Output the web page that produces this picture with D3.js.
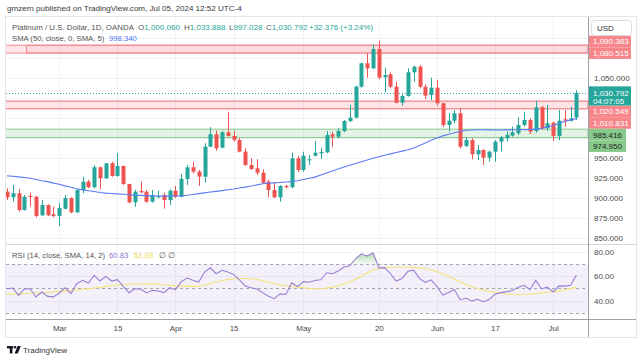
<!DOCTYPE html>
<html lang="en">
<head>
  <meta charset="UTF-8" />
  <title>Platinum / U.S. Dollar, 1D</title>
  <script src="https://cdn.jsdelivr.net/npm/d3@7"></script>
  <style>
    body { margin: 0; background: #fff; }
    svg { display: block; font-family: 'Liberation Sans', Arial, sans-serif; }
  </style>
</head>
<body>
  <svg width="643" height="361"></svg>

  <script>
    // trading days (2024, MM-DD)
    const dates = [
      '02-19', '02-20', '02-21', '02-22', '02-23', '02-26', '02-27', '02-28', '02-29',
      '03-01', '03-04', '03-05', '03-06', '03-07', '03-08', '03-11', '03-12', '03-13', '03-14', '03-15',
      '03-18', '03-19', '03-20', '03-21', '03-22', '03-25', '03-26', '03-27', '03-28',
      '04-01', '04-02', '04-03', '04-04', '04-05', '04-08', '04-09', '04-10', '04-11', '04-12',
      '04-15', '04-16', '04-17', '04-18', '04-19', '04-22', '04-23', '04-24', '04-25', '04-26', '04-29', '04-30',
      '05-01', '05-02', '05-03', '05-06', '05-07', '05-08', '05-09', '05-10', '05-13', '05-14', '05-15', '05-16', '05-17',
      '05-20', '05-21', '05-22', '05-23', '05-24', '05-27', '05-28', '05-29', '05-30', '05-31',
      '06-03', '06-04', '06-05', '06-06', '06-07', '06-10', '06-11', '06-12', '06-13', '06-14',
      '06-17', '06-18', '06-19', '06-20', '06-21', '06-24', '06-25', '06-26', '06-27', '06-28',
      '07-01', '07-02', '07-03', '07-04', '07-05',
    ];

    const opens = [
      907.3, 900.3, 905.3, 884.4, 901.9, 901.0, 877.8, 890.6, 879.0,
      876.9, 885.9, 899.4, 881.5, 909.4, 919.8, 912.8, 937.8, 924.0, 942.8, 926.9,
      939.4, 916.9, 894.0, 908.1, 907.3, 894.8, 900.3, 903.1, 896.9,
      908.5, 901.0, 923.1, 937.8, 932.3, 926.0, 963.5, 979.0, 962.3, 981.5,
      976.9, 971.9, 957.3, 940.6, 936.5, 931.0, 919.8, 909.4, 900.3, 914.4, 912.8, 949.0,
      934.4, 946.5, 952.3, 955.3, 956.5, 979.0, 976.0, 983.1, 995.6, 999.8, 1038.5, 1067.8, 1061.5,
      1085.6, 1050.3, 1054.0, 1038.5, 1018.5, 1026.9, 1056.5, 1063.5, 1038.5, 1028.1,
      1037.3, 1017.8, 990.6, 996.0, 1005.3, 964.4, 971.9, 954.0, 959.4, 949.8,
      957.3, 969.8, 974.0, 977.3, 980.3, 990.6, 996.9, 983.1, 1012.8, 986.5,
      993.5, 976.9, 997.8, 996.0, 1000.06,
    ];
    const highs = [
      911.5, 915.6, 910.6, 903.0, 906.0, 901.9, 896.9, 891.5, 888.5,
      893.1, 903.1, 900.3, 910.3, 926.0, 921.9, 940.6, 938.5, 943.0, 944.8, 955.3,
      940.0, 917.0, 909.4, 919.8, 909.4, 909.4, 908.5, 906.0, 910.3,
      914.4, 929.4, 940.6, 944.8, 934.4, 967.8, 987.8, 983.5, 983.5, 1007.3,
      983.5, 974.0, 961.5, 949.0, 947.8, 935.3, 921.9, 918.5, 915.6, 915.6, 956.0, 951.9,
      957.3, 953.0, 970.6, 961.9, 983.1, 982.3, 986.5, 996.9, 1015.6, 1039.8, 1068.5, 1080.3, 1091.5,
      1096.0, 1062.3, 1056.5, 1044.8, 1029.0, 1061.5, 1064.8, 1065.6, 1041.5, 1049.8,
      1046.9, 1018.5, 1005.3, 1009.4, 1011.5, 975.3, 974.0, 965.6, 960.3, 958.5,
      971.9, 976.9, 982.3, 988.5, 1000.3, 1007.3, 999.0, 1021.0, 1014.4, 1015.6,
      994.8, 1009.4, 1009.4, 1013.5, 1033.888,
    ];
    const lows = [
      896.9, 894.8, 882.3, 883.5, 888.5, 875.2, 876.9, 876.9, 875.2,
      864.4, 885.3, 880.3, 880.3, 905.3, 911.5, 911.5, 910.6, 923.1, 926.0, 926.0,
      915.6, 892.8, 888.5, 905.3, 893.5, 893.5, 898.9, 886.0, 890.6,
      899.4, 900.3, 915.6, 930.3, 914.4, 918.5, 962.8, 958.5, 961.5, 976.0,
      969.8, 956.5, 939.8, 934.4, 928.1, 916.9, 900.3, 899.0, 894.8, 911.5, 911.5, 931.9,
      932.3, 940.6, 951.0, 948.1, 955.3, 963.5, 974.0, 981.5, 994.0, 999.0, 1037.3, 1049.8, 1060.3,
      1047.8, 1031.5, 1036.5, 1017.8, 1014.8, 1026.0, 1044.8, 1036.5, 1023.1, 1021.9,
      1014.8, 988.1, 982.3, 992.8, 961.5, 962.8, 947.8, 946.9, 940.6, 944.8,
      944.8, 957.3, 969.8, 976.0, 978.1, 988.5, 979.4, 981.0, 984.4, 983.5,
      970.6, 971.9, 988.5, 994.8, 997.028,
    ];
    const closes = [
      900.3, 905.3, 884.4, 901.0, 900.6, 876.9, 890.6, 877.8, 876.9,
      886.9, 899.4, 881.5, 909.4, 919.8, 912.8, 937.8, 924.0, 942.8, 926.9, 939.4,
      916.9, 894.0, 907.3, 906.5, 894.8, 903.1, 901.9, 896.9, 908.5,
      901.0, 923.1, 937.8, 932.3, 926.0, 963.5, 979.0, 961.5, 981.5, 976.9,
      971.9, 957.3, 940.6, 935.6, 931.0, 918.5, 909.4, 900.3, 914.4, 912.8, 949.0, 934.4,
      952.3, 947.8, 956.0, 956.9, 978.1, 976.0, 983.1, 995.6, 999.8, 1038.5, 1067.8, 1061.5, 1085.6,
      1049.8, 1053.1, 1038.5, 1018.5, 1026.9, 1056.5, 1063.5, 1038.5, 1027.3, 1037.3,
      1017.8, 990.6, 996.0, 1005.3, 963.5, 971.9, 954.0, 959.4, 949.8, 957.3,
      969.8, 975.3, 978.1, 981.5, 990.6, 996.9, 982.3, 1012.8, 986.5, 992.8,
      976.9, 996.0, 996.0, 999.0, 1030.792,
    ];

    // SMA (50, close)
    const sma50 = [
      927.0, 926.5, 925.8, 925.0, 924.0, 922.5, 921.0, 919.8, 918.0,
      916.5, 914.5, 912.8, 911.0, 909.5, 908.5, 907.5, 906.3, 905.5, 905.0, 904.5,
      904.0, 903.5, 903.0, 902.7, 902.3, 902.0, 901.8, 901.7, 901.7,
      901.8, 902.0, 902.8, 903.8, 904.8, 905.8, 906.8, 907.7, 908.6, 909.6,
      910.6, 911.8, 913.0, 914.3, 915.8, 917.2, 917.8, 918.3, 918.8, 919.3, 919.8, 921.0,
      922.5, 924.0, 925.5, 928.0, 930.5, 933.0, 935.5, 938.0, 940.3, 942.5, 944.8, 946.8, 949.0,
      951.0, 952.8, 954.5, 956.3, 958.0, 959.7, 962.0, 965.0, 968.0, 971.5,
      974.5, 977.0, 979.0, 981.0, 982.5, 984.0, 984.4, 984.6, 984.6, 984.5,
      984.4, 984.4, 984.5, 984.6, 984.7, 984.9, 985.1, 985.5, 986.5, 988.0,
      990.0, 992.5, 995.0, 997.0, 998.34,
    ];

    // RSI (14) and its SMA (14)
    const rsi = [
      49.7, 50.3, 44.3, 49.7, 49.5, 42.9, 47.0, 43.4, 43.0,
      46.2, 50.5, 45.6, 53.8, 56.6, 54.4, 60.7, 56.0, 59.8, 56.0, 57.1,
      51.6, 46.4, 49.7, 49.5, 46.2, 48.4, 47.8, 46.5, 50.5,
      48.9, 55.5, 58.5, 56.6, 55.2, 63.4, 66.9, 62.0, 64.8, 63.5,
      61.5, 57.0, 52.0, 50.5, 49.5, 46.5, 43.5, 41.5, 45.5, 45.0, 54.5, 51.5,
      55.5, 55.0, 56.5, 57.0, 62.8, 62.0, 64.2, 67.5, 68.5, 74.3, 78.4, 76.5, 79.2,
      66.7, 67.0, 62.0, 56.0, 58.0, 64.0, 65.0, 58.0, 55.0, 57.0,
      51.5, 44.5, 46.5, 49.0, 40.5, 42.0, 39.5, 41.0, 38.8, 41.0,
      45.1, 46.5, 47.3, 48.3, 51.0, 52.5, 48.9, 56.6, 49.7, 51.0,
      47.0, 52.0, 51.8, 52.5, 60.83,
    ];
    const rsiSma = [
      45.1, 45.3, 45.5, 45.8, 46.0, 46.2, 46.4, 46.7, 47.0,
      47.3, 47.7, 48.1, 48.6, 49.2, 49.8, 50.3, 50.9, 51.6, 52.2, 52.7,
      53.1, 53.4, 53.6, 53.8, 53.8, 53.7, 53.4, 53.0, 52.5,
      52.0, 51.8, 51.6, 51.6, 51.7, 52.5, 54.0, 55.2, 56.2, 57.2,
      57.9, 58.1, 58.1, 57.9, 57.2, 56.2, 55.0, 53.8, 52.8, 52.0, 51.5, 51.0,
      50.5, 50.0, 49.7, 49.7, 50.2, 51.0, 52.2, 53.8, 55.5, 57.5, 60.0, 62.6, 64.8,
      66.5, 67.0, 67.3, 67.5, 67.5, 67.5, 67.2, 66.8, 66.1, 65.0,
      63.6, 62.0, 60.0, 57.6, 55.2, 53.2, 51.3, 49.7, 48.6, 47.5,
      46.6, 46.0, 45.4, 44.9, 44.8, 45.0, 45.4, 45.8, 46.3, 46.8,
      47.2, 47.9, 48.8, 49.8, 51.03,
    ];

    // axis ticks
    const priceTicks = [850, 875, 900, 925, 950, 975, 1000, 1025, 1050, 1075, 1100];
    const rsiTicks = [40, 60, 80];
    const timeTicks = [
      { date: '03-01', label: 'Mar' },
      { date: '03-15', label: '15' },
      { date: '04-01', label: 'Apr' },
      { date: '04-15', label: '15' },
      { date: '05-01', label: 'May' },
      { date: '05-20', label: '20' },
      { date: '06-03', label: 'Jun' },
      { date: '06-17', label: '17' },
      { date: '07-01', label: 'Jul' },
    ];

    // drawn zones (bottom, top) and the two-part start of the upper one
    const zoneHigh = [1080.515, 1090.383];
    const zoneMid = [1010.831, 1020.549];
    const zoneLow = [974.95, 985.416];
    const zoneHighSplit = '02-22';

    const lastClose = 1030.792;
    const countdown = '04:07:05';

    // ---------- layout ----------
    const svg = d3.select('svg');
    const L = 6, R = 588, T = 17, PB = 244, RB = 319, AB = 337, AX = 636;
    const up = '#26a69a', down = '#ef5350';
    const fs = 7.7;

    const x = d3.scaleLinear().domain([0, dates.length - 1]).range([7, 576.4]);
    const y = d3.scaleLinear().domain([850, 1050]).range([237.5, 77.5]);
    const yR = d3.scaleLinear().domain([30, 70]).range([312.7, 264]);

    const defs = svg.append('defs');
    defs.append('clipPath').attr('id', 'cp').append('rect')
      .attr('x', L).attr('y', T).attr('width', R - L).attr('height', PB - T);
    defs.append('clipPath').attr('id', 'cr').append('rect')
      .attr('x', L).attr('y', PB).attr('width', R - L).attr('height', RB - PB);

    // header
    svg.append('text').attr('x', 7).attr('y', 11)
      .attr('font-size', 8.05).attr('fill', '#3a3a3a')
      .text('gmzern published on TradingView.com, Jul 05, 2024 12:52 UTC-4');

    // frame
    svg.append('rect').attr('x', L - 0.5).attr('y', T - 0.5)
      .attr('width', AX - L + 1).attr('height', AB - T + 1)
      .attr('fill', 'none').attr('stroke', '#e3e5ea');

    // grid
    const grid = svg.append('g').attr('stroke', '#f0f2f6').attr('stroke-width', 1);
    const tIdx = timeTicks.map((t) => dates.indexOf(t.date));
    grid.selectAll('line.v').data(tIdx).enter().append('line')
      .attr('x1', (d) => Math.round(x(d)) + 0.5).attr('x2', (d) => Math.round(x(d)) + 0.5)
      .attr('y1', T).attr('y2', RB);
    grid.selectAll('line.h').data(priceTicks.filter((d) => y(d) > T)).enter().append('line')
      .attr('x1', L).attr('x2', R)
      .attr('y1', (d) => Math.round(y(d)) + 0.5).attr('y2', (d) => Math.round(y(d)) + 0.5);
    grid.selectAll('line.r').data(rsiTicks).enter().append('line')
      .attr('x1', L).attr('x2', R)
      .attr('y1', (d) => Math.round(yR(d)) + 0.5).attr('y2', (d) => Math.round(yR(d)) + 0.5);

    // ---------- price pane ----------
    const pane = svg.append('g').attr('clip-path', 'url(#cp)');

    function zone(g, z, fill, stroke, x0) {
      g.append('rect').attr('x', x0).attr('y', y(z[1]))
        .attr('width', R - x0).attr('height', y(z[0]) - y(z[1]))
        .attr('fill', fill).attr('stroke', stroke).attr('stroke-width', 1);
    }
    zone(pane, zoneHigh, 'rgba(242,54,69,0.13)', '#f48a8f', L - 2);
    zone(pane, zoneHigh, 'rgba(242,54,69,0.06)', '#f48a8f', x(dates.indexOf(zoneHighSplit)) + 2);
    zone(pane, zoneMid, 'rgba(242,54,69,0.13)', '#f06a70', L - 2);
    zone(pane, zoneLow, 'rgba(76,175,80,0.15)', '#86c98a', L - 2);

    pane.append('line').attr('x1', L).attr('x2', R)
      .attr('y1', Math.round(y(lastClose)) + 0.5).attr('y2', Math.round(y(lastClose)) + 0.5)
      .attr('stroke', up).attr('stroke-dasharray', '1,2');

    const candles = dates.map((d, i) => ({ i, o: opens[i], h: highs[i], l: lows[i], c: closes[i] }));

    pane.append('g').selectAll('line').data(candles).enter().append('line')
      .attr('x1', (d) => Math.round(x(d.i)) + 0.5).attr('x2', (d) => Math.round(x(d.i)) + 0.5)
      .attr('y1', (d) => y(d.h)).attr('y2', (d) => y(d.l))
      .attr('stroke', (d) => (d.c >= d.o ? up : down)).attr('stroke-width', 1);

    pane.append('g').selectAll('rect').data(candles).enter().append('rect')
      .attr('x', (d) => Math.round(x(d.i)) - 1.5)
      .attr('width', 4)
      .attr('y', (d) => y(Math.max(d.o, d.c)))
      .attr('height', (d) => Math.max(1, Math.abs(y(d.o) - y(d.c))))
      .attr('fill', (d) => (d.c >= d.o ? up : down));

    pane.append('path').datum(sma50)
      .attr('fill', 'none').attr('stroke', '#5b7cf6').attr('stroke-width', 1.1)
      .attr('d', d3.line().x((d, i) => x(i)).y((d) => y(d)));

    // legend
    const lg = svg.append('g').attr('font-size', fs).attr('fill', '#555');
    lg.append('text').attr('x', 12).attr('y', 30).attr('font-size', 7.9).text('Platinum / U.S. Dollar, 1D, OANDA');
    [['O', '1,000.060', 138], ['H', '1,033.888', 184], ['L', '997.028', 229], ['C', '1,030.792', 266]].forEach(([k, v, px]) => {
      const t = lg.append('text').attr('x', px).attr('y', 30).attr('font-size', 8);
      t.append('tspan').text(k);
      t.append('tspan').attr('fill', up).text(v);
    });
    lg.append('text').attr('x', 309).attr('y', 30).attr('font-size', 8).attr('fill', up).text('+32.376 (+3.24%)');
    lg.append('text').attr('x', 12).attr('y', 41).text('SMA (50, close, 0, SMA, 5)');
    lg.append('text').attr('x', 109).attr('y', 41).attr('fill', '#4f73f5').text('998.340');

    // ---------- RSI pane ----------
    const rp = svg.append('g').attr('clip-path', 'url(#cr)');
    rp.append('rect').attr('x', L).attr('width', R - L)
      .attr('y', yR(70)).attr('height', yR(30) - yR(70))
      .attr('fill', 'rgba(126,87,194,0.09)');
    rp.selectAll('line.lvl').data([70, 50, 30]).enter().append('line')
      .attr('x1', L).attr('x2', R)
      .attr('y1', (d) => Math.round(yR(d)) + 0.5).attr('y2', (d) => Math.round(yR(d)) + 0.5)
      .attr('stroke', '#a3a6ad').attr('stroke-dasharray', '3,3');

    const grad = defs.append('linearGradient').attr('id', 'ob').attr('x1', 0).attr('y1', 0).attr('x2', 0).attr('y2', 1);
    grad.append('stop').attr('offset', 0).attr('stop-color', 'rgba(76,175,80,0.45)');
    grad.append('stop').attr('offset', 1).attr('stop-color', 'rgba(76,175,80,0.05)');
    rp.append('path').datum(rsi)
      .attr('fill', 'url(#ob)')
      .attr('d', d3.area().x((d, i) => x(i)).y0(yR(70)).y1((d) => yR(Math.max(d, 70))));

    rp.append('path').datum(rsiSma)
      .attr('fill', 'none').attr('stroke', '#f5e27a').attr('stroke-width', 1.1)
      .attr('d', d3.line().x((d, i) => x(i)).y((d) => yR(d)));
    rp.append('path').datum(rsi)
      .attr('fill', 'none').attr('stroke', '#9a7fd4').attr('stroke-width', 1.1)
      .attr('d', d3.line().x((d, i) => x(i)).y((d) => yR(d)));

    const lg3 = svg.append('g').attr('font-size', fs).attr('fill', '#555');
    lg3.append('text').attr('x', 12).attr('y', 258).text('RSI (14, close, SMA, 14, 2)');
    lg3.append('text').attr('x', 109).attr('y', 258).attr('fill', '#8e72cf').text('60.83');
    lg3.append('text').attr('x', 134).attr('y', 258).attr('fill', '#f2d43c').text('51.03');
    lg3.append('text').attr('x', 159).attr('y', 258).text('\u2205 \u2205');

    // pane borders
    svg.append('line').attr('x1', L).attr('x2', AX).attr('y1', PB + 0.5).attr('y2', PB + 0.5).attr('stroke', '#d6d8de');
    svg.append('line').attr('x1', L).attr('x2', AX).attr('y1', RB + 0.5).attr('y2', RB + 0.5).attr('stroke', '#9ea1a8');
    svg.append('line').attr('x1', R + 0.5).attr('x2', R + 0.5).attr('y1', T).attr('y2', AB).attr('stroke', '#9ea1a8');

    // ---------- price labels on the axis (placed first so ticks can avoid them) ----------
    const lh = 11.6;
    const tags = [
      { v: zoneHigh[1], bg: '#f7868b', fg: '#fff' },
      { v: zoneHigh[0], bg: '#f7868b', fg: '#fff' },
      { v: zoneMid[1], bg: '#f7868b', fg: '#fff' },
      { v: zoneMid[0], bg: '#f7868b', fg: '#fff' },
      { v: zoneLow[1], bg: '#86c98a', fg: '#222' },
      { v: zoneLow[0], bg: '#86c98a', fg: '#222' },
    ].map((t) => ({ ...t, cy: y(t.v) }));

    const curTop = y(lastClose) - 6.5, curBot = curTop + 2 * lh - 4;
    // above the current price: push up, below: push down
    const above = tags.filter((t) => t.v > lastClose).sort((a, b) => a.v - b.v);
    for (let k = 1; k < above.length; k++) {
      if (above[k - 1].cy - above[k].cy < lh) above[k].cy = above[k - 1].cy - lh;
    }
    const below = tags.filter((t) => t.v < lastClose).sort((a, b) => b.v - a.v);
    let prev = curBot - lh / 2;
    below.forEach((t) => {
      if (t.cy - prev < lh) t.cy = prev + lh;
      prev = t.cy;
    });

    // tick labels that would sit under a tag or the currency box are hidden, as on the site
    const busy = tags.map((t) => [t.cy - lh / 2, t.cy + lh / 2]).concat([[curTop, curBot], [T, 40]]);
    const freeTicks = priceTicks.filter((v) => busy.every(([a, b]) => y(v) + 4 < a || y(v) - 4 > b));

    // ---------- axes ----------
    const pAxis = svg.append('g').attr('transform', `translate(${R},0)`)
      .call(d3.axisRight(y).tickValues(freeTicks).tickSize(0).tickPadding(6).tickFormat(d3.format(',.3f')));
    pAxis.select('.domain').remove();
    pAxis.selectAll('text').attr('font-size', 8).attr('fill', '#4a4a4a').attr('font-family', null);

    const rAxis = svg.append('g').attr('transform', `translate(${R},0)`)
      .call(d3.axisRight(yR).tickValues(rsiTicks).tickSize(0).tickPadding(6).tickFormat(d3.format('.2f')));
    rAxis.select('.domain').remove();
    rAxis.selectAll('text').attr('font-size', 8).attr('fill', '#4a4a4a').attr('font-family', null);

    const tAxis = svg.append('g').attr('transform', `translate(0,${RB})`)
      .call(d3.axisBottom(x).tickValues(tIdx).tickSize(0).tickPadding(6)
        .tickFormat((d) => timeTicks[tIdx.indexOf(d)].label));
    tAxis.select('.domain').remove();
    tAxis.selectAll('text').attr('font-size', 8).attr('fill', '#4a4a4a').attr('font-family', null);

    const tagG = svg.append('g');
    tags.forEach((t) => {
      tagG.append('rect').attr('x', R + 1).attr('y', t.cy - lh / 2)
        .attr('width', t.fg === '#fff' ? 42 : 37).attr('height', lh).attr('fill', t.bg);
      tagG.append('text').attr('x', R + 5).attr('y', t.cy + 3).attr('font-size', 8)
        .attr('fill', t.fg).text(d3.format(',.3f')(t.v));
    });

    tagG.append('rect').attr('x', R + 1).attr('y', curTop)
      .attr('width', 42).attr('height', curBot - curTop).attr('fill', up);
    tagG.append('text').attr('x', R + 5).attr('y', y(lastClose) + 2.8).attr('font-size', 8)
      .attr('fill', '#fff').text(d3.format(',.3f')(lastClose));
    tagG.append('text').attr('x', R + 5).attr('y', y(lastClose) + 11).attr('font-size', 8)
      .attr('fill', '#fff').text(countdown);

    // currency box
    svg.append('rect').attr('x', R + 3.5).attr('y', 20.5).attr('width', 40).attr('height', 15).attr('rx', 3)
      .attr('fill', '#fff').attr('stroke', '#d9dbe0');
    svg.append('text').attr('x', R + 9).attr('y', 31).attr('font-size', 8).attr('fill', '#333').text('USD');

    // ---------- footer ----------
    const logo = svg.append('g').attr('fill', '#131722');
    logo.append('rect').attr('x', 7).attr('y', 346).attr('width', 6).attr('height', 2.4);
    logo.append('rect').attr('x', 9.8).attr('y', 346).attr('width', 2.6).attr('height', 7.4);
    logo.append('circle').attr('cx', 15).attr('cy', 347.3).attr('r', 1.3);
    logo.append('path').attr('d', 'M17.6,346 L20.8,346 L17.8,353.4 L14.6,353.4 Z');
    svg.append('text').attr('x', 23).attr('y', 353).attr('font-size', 8).attr('fill', '#333').text('TradingView');
  </script>
</body>
</html>
